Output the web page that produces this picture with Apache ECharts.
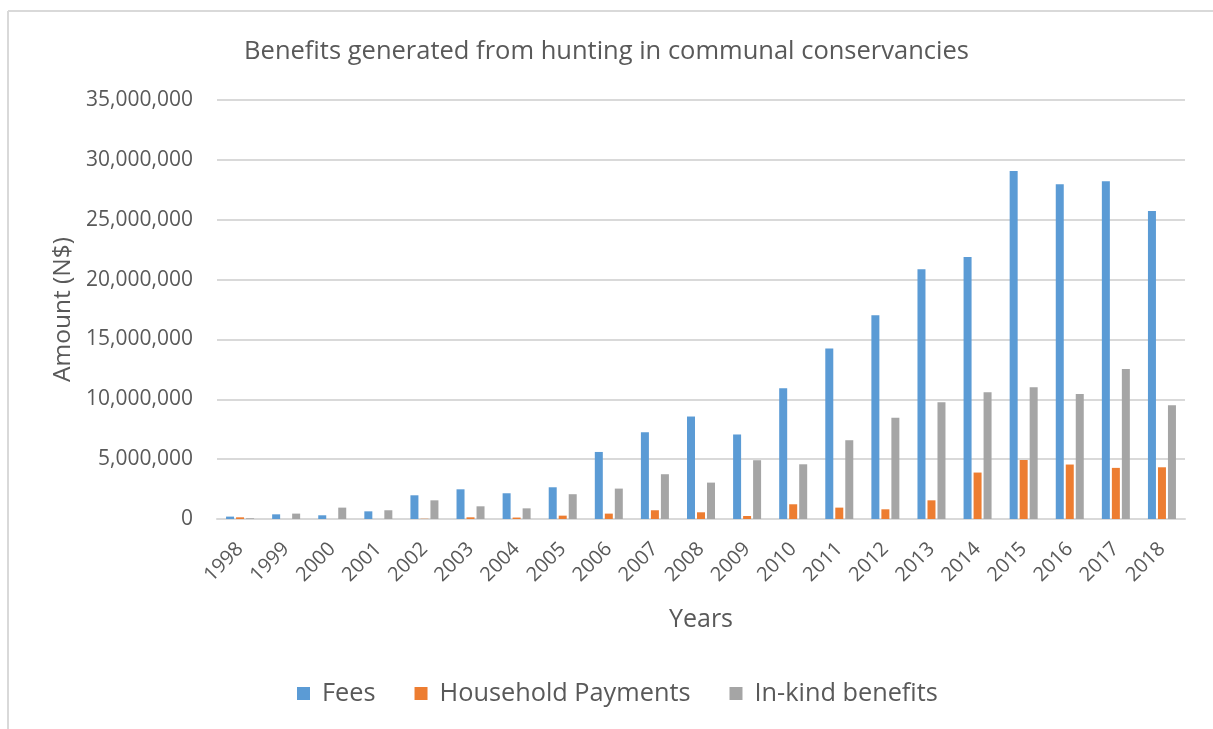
<!DOCTYPE html>
<html>
<head>
<meta charset="utf-8">
<title>Benefits generated from hunting in communal conservancies</title>
<script src="https://cdn.jsdelivr.net/npm/echarts@6/dist/echarts.min.js"></script>
<style>
  html, body { margin: 0; padding: 0; background: #ffffff; }
  #chart { width: 1213px; height: 729px; }
</style>
</head>
<body>
<div id="chart"></div>
<script>
// Hunting benefits to communal conservancies, N$ per year
const years = ['1998','1999','2000','2001','2002','2003','2004','2005','2006','2007',
               '2008','2009','2010','2011','2012','2013','2014','2015','2016','2017','2018'];
const fees = [200000, 390000, 310000, 640000, 1980000, 2480000, 2150000, 2650000, 5600000, 7250000,
              8560000, 7060000, 10930000, 14250000, 17030000, 20870000, 21880000, 29070000, 27960000, 28210000, 25730000];
const householdPayments = [140000, 0, 0, 0, 20000, 140000, 120000, 280000, 450000, 730000,
              560000, 250000, 1230000, 950000, 810000, 1560000, 3880000, 4930000, 4550000, 4270000, 4320000];
const inKindBenefits = [60000, 450000, 950000, 730000, 1560000, 1060000, 890000, 2070000, 2540000, 3740000,
              3040000, 4910000, 4570000, 6580000, 8450000, 9760000, 10590000, 11010000, 10450000, 12540000, 9510000];
const seriesNames = ['Fees', 'Household Payments', 'In-kind benefits'];

const FONT = '"Open Sans", "Noto Sans", sans-serif';
const TEXT = '#595959';
const GRID_LINE = '#d9d9d9';

const chart = echarts.init(document.getElementById('chart'), null, { renderer: 'canvas' });

function barSeries(name, data, color) {
  return {
    name: name,
    type: 'bar',
    data: data,
    barWidth: 8,
    barGap: '25%',
    itemStyle: { color: color },
    emphasis: { disabled: true }
  };
}

chart.setOption({
  animation: false,
  backgroundColor: '#ffffff',
  textStyle: { fontFamily: FONT },
  color: ['#5B9BD5', '#ED7D31', '#A5A5A5'],
  title: {
    text: 'Benefits generated from hunting in communal conservancies',
    left: 'center',
    top: 34,
    textStyle: { fontFamily: FONT, fontSize: 25.5, fontWeight: 'normal', color: TEXT }
  },
  legend: {
    data: seriesNames,
    top: 676,
    left: 292,
    itemWidth: 13,
    itemHeight: 13,
    itemGap: 39,
    icon: 'rect',
    textStyle: { fontFamily: FONT, fontSize: 25.3, color: TEXT, padding: [0, 0, 0, 7] }
  },
  grid: { left: 217, right: 28, top: 100, bottom: 210 },
  xAxis: {
    type: 'category',
    data: years,
    name: 'Years',
    nameLocation: 'middle',
    nameGap: 88,
    nameTextStyle: { fontFamily: FONT, fontSize: 25, color: TEXT },
    axisLine: { lineStyle: { color: GRID_LINE, width: 2 } },
    axisTick: { show: false },
    axisLabel: { interval: 0, rotate: 45, fontSize: 20, color: TEXT, margin: 27, fontFamily: FONT }
  },
  yAxis: {
    type: 'value',
    min: 0,
    max: 35000000,
    interval: 5000000,
    name: 'Amount (N$)',
    nameLocation: 'middle',
    nameRotate: 90,
    nameGap: 141,
    nameTextStyle: { fontFamily: FONT, fontSize: 24.5, color: TEXT },
    axisLine: { show: false },
    axisTick: { show: false },
    splitLine: { lineStyle: { color: GRID_LINE, width: 2 } },
    axisLabel: {
      fontSize: 21,
      color: TEXT,
      margin: 24,
      fontFamily: FONT,
      formatter: v => v.toLocaleString('en-US')
    }
  },
  graphic: [
    { type: 'line', shape: { x1: 8, y1: 11, x2: 1213, y2: 11 }, style: { stroke: GRID_LINE, lineWidth: 2 }, silent: true },
    { type: 'line', shape: { x1: 8, y1: 11, x2: 8, y2: 729 }, style: { stroke: GRID_LINE, lineWidth: 2 }, silent: true }
  ],
  series: [
    barSeries(seriesNames[0], fees, '#5B9BD5'),
    barSeries(seriesNames[1], householdPayments, '#ED7D31'),
    barSeries(seriesNames[2], inKindBenefits, '#A5A5A5')
  ]
});
</script>
</body>
</html>
